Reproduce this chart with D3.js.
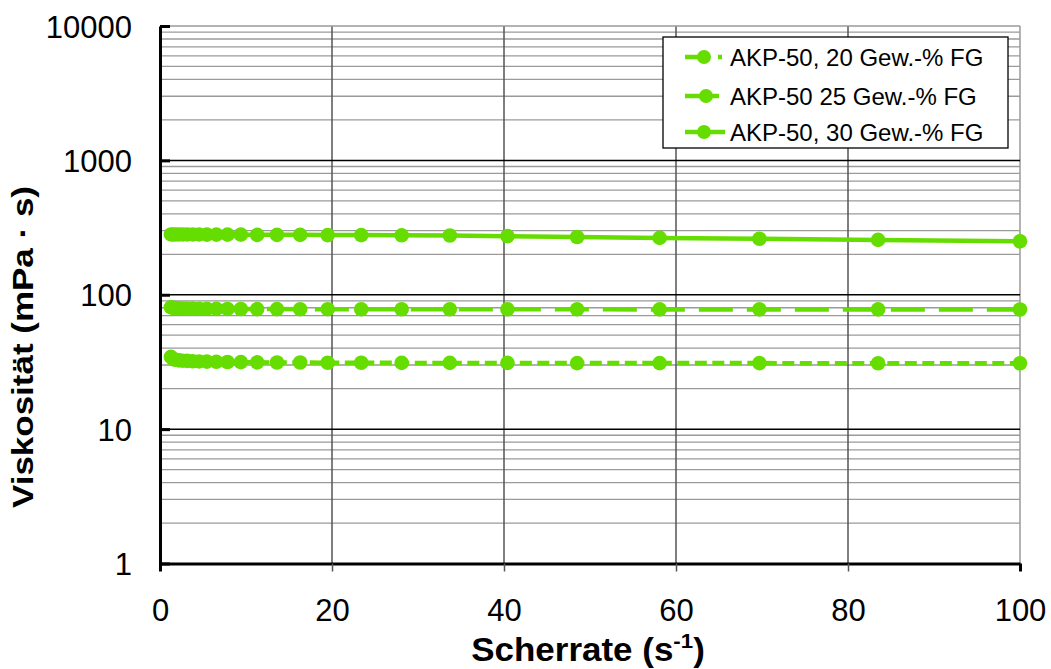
<!DOCTYPE html>
<html>
<head>
<meta charset="utf-8">
<script src="https://cdn.jsdelivr.net/npm/d3@7"></script>
<style>
  html, body { margin: 0; padding: 0; background: #fff; }
  svg { display: block; font-family: "Liberation Sans", Arial, sans-serif; }
</style>
</head>
<body>
<svg id="chart" width="1051" height="669"></svg>
<script>
// Shear rates (1/s) shared by all three measurements
const shearRate = [1.27, 1.53, 1.83, 2.2, 2.64, 3.16, 3.8, 4.55, 5.45, 6.55, 7.85, 9.4,
  11.3, 13.6, 16.3, 19.5, 23.4, 28.1, 33.7, 40.4, 48.5, 58.1, 69.7, 83.5, 100];

// Viscosity (mPa·s) per solids content
const visc20 = [34.5, 33.2, 32.8, 32.5, 32.3, 32.2, 32.0, 31.9, 31.8, 31.7, 31.6, 31.5,
  31.4, 31.3, 31.3, 31.2, 31.2, 31.1, 31.1, 31.1, 31.0, 31.0, 31.0, 30.9, 30.9];
const visc25 = [80.5, 80.0, 79.6, 79.3, 79.1, 78.9, 78.8, 78.7, 78.6, 78.5, 78.4, 78.3,
  78.2, 78.2, 78.1, 78.1, 78.0, 78.0, 78.0, 77.9, 77.9, 77.8, 77.8, 77.8, 77.7];
const visc30 = [281, 281, 281, 281, 281, 281, 281, 281, 280, 280, 280, 280,
  279, 279, 279, 278, 278, 277, 276, 273, 269, 265, 261, 256, 250];

const seriesNames = ["AKP-50, 20 Gew.-% FG", "AKP-50 25 Gew.-% FG", "AKP-50, 30 Gew.-% FG"];
const seriesDash = ["12,5.5", "34,14", null];

const xTicks = [0, 20, 40, 60, 80, 100];
const yTicks = [1, 10, 100, 1000, 10000];

const green = "#66dd00";

const svg = d3.select("#chart");
const plotL = 160, plotR = 1020, plotT = 26, plotB = 563.5;

const x = d3.scaleLinear().domain([0, 100]).range([plotL, plotR]);
const y = d3.scaleLog().domain([1, 10000]).range([plotB, plotT]);

// Minor log grid lines (2..9 within each decade)
const minor = [];
for (let d = 1; d < 10000; d *= 10) for (let k = 2; k <= 9; k++) minor.push(d * k);
svg.append("g").selectAll("line").data(minor).join("line")
  .attr("x1", plotL).attr("x2", plotR)
  .attr("y1", d => y(d)).attr("y2", d => y(d))
  .attr("stroke", "#9a9a9a").attr("stroke-width", 1.3);

// Vertical grid lines
svg.append("g").selectAll("line").data(xTicks.filter(v => v > 0)).join("line")
  .attr("x1", d => x(d)).attr("x2", d => x(d))
  .attr("y1", plotT).attr("y2", plotB)
  .attr("stroke", d => d === 100 ? "#9a9a9a" : "#555").attr("stroke-width", 1.5);

// Top border
svg.append("line").attr("x1", plotL).attr("x2", plotR).attr("y1", plotT).attr("y2", plotT)
  .attr("stroke", "#9a9a9a").attr("stroke-width", 1.5);

// Major decade lines
svg.append("g").selectAll("line").data(yTicks.filter(v => v > 1 && v < 10000)).join("line")
  .attr("x1", plotL).attr("x2", plotR)
  .attr("y1", d => y(d)).attr("y2", d => y(d))
  .attr("stroke", "#000").attr("stroke-width", 1.5);

const tickFont = 31;

// Y axis with inward ticks
const yAxis = d3.axisLeft(y).tickValues(yTicks).tickFormat(d3.format("d"))
  .tickSizeInner(-10).tickSizeOuter(0).tickPadding(28);
const gy = svg.append("g").attr("transform", `translate(${plotL},0)`).call(yAxis);
gy.select(".domain").attr("stroke", "#000").attr("stroke-width", 3);
gy.selectAll(".tick line").attr("stroke", "#000").attr("stroke-width", 3);
gy.selectAll(".tick text").attr("font-size", tickFont).attr("fill", "#000")
  .attr("font-family", "Liberation Sans, Arial, sans-serif").attr("dy", "0.36em");

// X axis with outward ticks
const xAxis = d3.axisBottom(x).tickValues(xTicks).tickSizeInner(8).tickSizeOuter(0).tickPadding(27);
const gx = svg.append("g").attr("transform", `translate(0,${plotB})`).call(xAxis);
gx.select(".domain").attr("stroke", "#000").attr("stroke-width", 3);
gx.selectAll(".tick line")
  .attr("stroke", d => (d === 0 || d === 100) ? "#000" : "#555")
  .attr("stroke-width", d => (d === 0 || d === 100) ? 3 : 1.5);
gx.selectAll(".tick text").attr("font-size", tickFont).attr("fill", "#000")
  .attr("font-family", "Liberation Sans, Arial, sans-serif");

// Axis titles
const xt = svg.append("text").attr("transform", "translate(588,661) scale(1.06,1)")
  .attr("text-anchor", "middle").attr("font-size", 33).attr("font-weight", "bold");
xt.append("tspan").text("Scherrate (s");
xt.append("tspan").attr("dy", -13).attr("font-size", 21).text("-1");
xt.append("tspan").attr("dy", 13).text(")");

svg.append("text")
  .attr("transform", "translate(33,347) rotate(-90)")
  .attr("text-anchor", "middle").attr("font-size", 29).attr("font-weight", "bold")
  .attr("textLength", 322).attr("lengthAdjust", "spacingAndGlyphs")
  .text("Viskosität (mPa · s)");

// Data series
const series = [visc20, visc25, visc30].map((vals, i) => ({
  name: seriesNames[i], dash: seriesDash[i],
  points: shearRate.map((s, j) => ({ s, v: vals[j] }))
}));

const line = d3.line().x(d => x(d.s)).y(d => y(d.v));
const gs = svg.append("g").selectAll("g").data(series).join("g");
gs.append("path").attr("d", d => line(d.points))
  .attr("fill", "none").attr("stroke", green).attr("stroke-width", 4.5)
  .attr("stroke-dasharray", d => d.dash);
gs.selectAll("circle").data(d => d.points).join("circle")
  .attr("cx", d => x(d.s)).attr("cy", d => y(d.v)).attr("r", 7.3)
  .attr("fill", green);

// Legend
const lg = svg.append("g").attr("transform", "translate(663,37)");
lg.append("rect").attr("width", 345).attr("height", 111)
  .attr("fill", "#fff").attr("stroke", "#000").attr("stroke-width", 1.3);
const rows = [20, 59, 95];
const legendDash = ["17,16,4,10", null, null];
series.forEach((s, i) => {
  const r = lg.append("g").attr("transform", `translate(0,${rows[i]})`);
  r.append("line").attr("x1", 22).attr("x2", i === 1 ? 56 : 62).attr("y1", 0).attr("y2", 0)
    .attr("stroke", green).attr("stroke-width", 4.5)
    .attr("stroke-dasharray", legendDash[i]);
  r.append("circle").attr("cx", i === 1 ? 43 : 41).attr("cy", 0).attr("r", 7).attr("fill", green);
  r.append("text").attr("x", 67).attr("y", 9).attr("font-size", 24).attr("fill", "#000")
    .text(s.name);
});
</script>
</body>
</html>
